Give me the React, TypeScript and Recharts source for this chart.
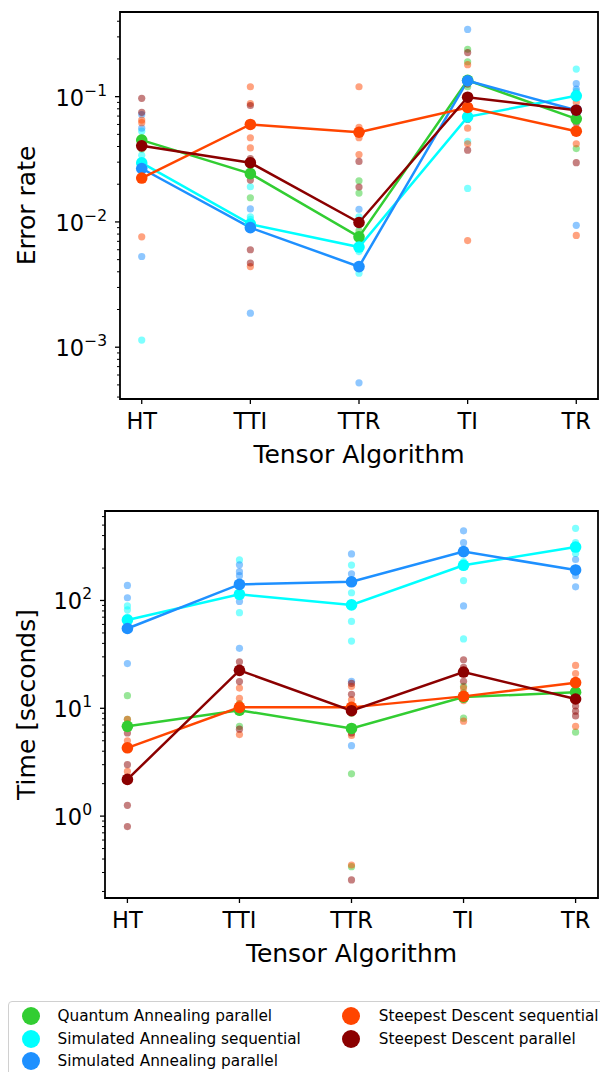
import React from "react"
import { ComposedChart, Line, Scatter, XAxis, YAxis, ReferenceArea } from "recharts"

const categories = ["HT", "TTI", "TTR", "TI", "TR"]

const seriesNames = [
  "Quantum Annealing parallel",
  "Simulated Annealing sequential",
  "Simulated Annealing parallel",
  "Steepest Descent sequential",
  "Steepest Descent parallel",
]
const seriesColors = ["#32cd32", "#00ffff", "#1e90ff", "#ff4500", "#8b0000"]

// error rate, mean per algorithm
const qaParErrMean = [0.045, 0.0243, 0.0076, 0.135, 0.0665]
const saSeqErrMean = [0.0296, 0.0096, 0.0063, 0.069, 0.1015]
const saParErrMean = [0.0267, 0.009, 0.0044, 0.134, 0.078]
const sdSeqErrMean = [0.0224, 0.06, 0.052, 0.082, 0.053]
const sdParErrMean = [0.0405, 0.0297, 0.0099, 0.099, 0.078]

// error rate, single runs
const qaParErr = [[0.047, 0.042, 0.038], [0.031, 0.0156, 0.028], [0.0213, 0.017, 0.0085], [0.239, 0.19, 0.12], [0.0385, 0.07, 0.1]]
const saSeqErr = [[0.053, 0.034, 0.00114, 0.046], [0.0191, 0.0105, 0.011], [0.011, 0.0039, 0.0058], [0.044, 0.0185, 0.069], [0.166, 0.105, 0.11]]
const saParErr = [[0.072, 0.056, 0.0053, 0.029], [0.0127, 0.00187, 0.0095], [0.0126, 0.0095, 0.00052], [0.344, 0.13, 0.066], [0.127, 0.115, 0.0094]]
const sdSeqErr = [[0.065, 0.062, 0.0076], [0.12, 0.088, 0.047, 0.039, 0.0044], [0.12, 0.057, 0.047, 0.0345], [0.18, 0.056, 0.042, 0.0071], [0.042, 0.0078, 0.09]]
const sdParErr = [[0.097, 0.075, 0.029], [0.085, 0.0216, 0.006, 0.0047, 0.032], [0.0304, 0.019], [0.225, 0.126, 0.066, 0.0374], [0.098, 0.0616, 0.0297, 0.105]]

// time in seconds, mean per algorithm
const qaParTimeMean = [6.8, 9.6, 6.5, 12.7, 14.1]
const saSeqTimeMean = [66, 114, 91, 212, 313]
const saParTimeMean = [55, 141, 149, 284, 192]
const sdSeqTimeMean = [4.3, 10.2, 10.2, 12.9, 17.3]
const sdParTimeMean = [2.19, 22.5, 9.5, 21.7, 12.2]

// time in seconds, single runs
const qaParTime = [[13.1, 7.9, 7.2], [6.8, 9.2, 11], [2.47, 0.34, 9.0], [8.1, 14, 16], [6.0, 14, 15]]
const saSeqTime = [[89, 82, 70], [238, 77, 120], [213, 118, 64, 42], [153, 44, 230], [467, 344, 273, 190]]
const saParTime = [[138, 106, 26], [214, 185, 170, 98, 36], [270, 177, 17.8, 4.5], [443, 344, 89], [240, 134, 170]]
const sdSeqTime = [[7.9, 2.6, 5.0], [15.4, 12.4, 5.7, 11], [16, 12, 5.6, 0.352], [15.4, 11.8, 7.6], [25, 21, 6.8]]
const sdParTime = [[5.9, 3.0, 1.26, 0.8], [27, 17.7, 6.4], [17, 13.5, 5.9, 0.256], [28.2, 24, 17.8], [18, 10.5, 9.4, 8.5]]

const errTicks = [
  0.0004, 0.0005, 0.0006, 0.0007, 0.0008, 0.0009, 0.001,
  0.002, 0.003, 0.004, 0.005, 0.006, 0.007, 0.008, 0.009, 0.01,
  0.02, 0.03, 0.04, 0.05, 0.06, 0.07, 0.08, 0.09, 0.1,
  0.2, 0.3, 0.4,
]
const timeTicks = [
  0.2, 0.3, 0.4, 0.5, 0.6, 0.7, 0.8, 0.9, 1,
  2, 3, 4, 5, 6, 7, 8, 9, 10,
  20, 30, 40, 50, 60, 70, 80, 90, 100,
  200, 300, 400, 500, 600,
]
const errDomain = [3.86e-4, 0.474]
const timeDomain = [0.174, 676]

const FONT = "DejaVu Sans"

const toPoints = (vals: number[]) => vals.map((y, x) => ({ x, y }))
const toScatter = (runs: number[][]) => runs.flatMap((vs, x) => vs.map((y) => ({ x, y })))

const errMeans = [qaParErrMean, saSeqErrMean, saParErrMean, sdSeqErrMean, sdParErrMean]
const errRuns = [qaParErr, saSeqErr, saParErr, sdSeqErr, sdParErr]
const timeMeans = [qaParTimeMean, saSeqTimeMean, saParTimeMean, sdSeqTimeMean, sdParTimeMean]
const timeRuns = [qaParTime, saSeqTime, saParTime, sdSeqTime, sdParTime]

function LogTick(props: any) {
  const { x, y, payload } = props
  const e = Math.log10(payload.value)
  const major = Math.abs(e - Math.round(e)) < 1e-6
  const len = major ? 5 : 3
  const exp = Math.round(e)
  return (
    <g>
      <line x1={x - len} x2={x} y1={y} y2={y} stroke="#000" strokeWidth={major ? 1.3 : 1} />
      {major && (
        <text x={x - 13} y={y + 9} textAnchor="end" fontSize={22.5} fontFamily={FONT} fill="#000">
          10
          <tspan dy={-10} fontSize={15.5}>
            {exp < 0 ? "\u2212" + Math.abs(exp) : String(exp)}
          </tspan>
        </text>
      )}
    </g>
  )
}

function CatTick(props: any) {
  const { x, y, payload } = props
  return (
    <g>
      <line x1={x} x2={x} y1={y} y2={y + 5} stroke="#000" strokeWidth={1.3} />
      <text x={x} y={y + 30} textAnchor="middle" fontSize={22.5} fontFamily={FONT} fill="#000">
        {categories[payload.value]}
      </text>
    </g>
  )
}

function XTitle(props: any) {
  const vb = props.viewBox || {}
  return (
    <text x={vb.x + vb.width / 2} y={vb.y + 64} textAnchor="middle" fontSize={25} fontFamily={FONT} fill="#000">
      Tensor Algorithm
    </text>
  )
}

function YTitle(props: any) {
  const vb = props.viewBox || {}
  const cx = 35
  const cy = vb.y + vb.height / 2
  return (
    <text x={cx} y={cy} transform={`rotate(-90 ${cx} ${cy})`} textAnchor="middle" fontSize={25} fontFamily={FONT} fill="#000">
      {props.title}
    </text>
  )
}

function Panel(props: {
  means: number[][]
  runs: number[][][]
  ticks: number[]
  domain: number[]
  title: string
  yWidth: number
  top: number
}) {
  const { means, runs, ticks, domain, title, yWidth, top } = props
  return (
    <ComposedChart width={600} height={500} margin={{ top, right: 2, bottom: 0, left: 0 }}>
      <XAxis
        type="number"
        dataKey="x"
        domain={[-0.2, 4.2]}
        ticks={[0, 1, 2, 3, 4]}
        allowDataOverflow
        interval={0}
        tick={<CatTick />}
        tickLine={false}
        axisLine={false}
        tickSize={0}
        tickMargin={0}
        height={500 - top - 387}
        label={<XTitle />}
      />
      <YAxis
        type="number"
        dataKey="y"
        scale="log"
        domain={domain}
        allowDataOverflow
        ticks={ticks}
        interval={0}
        tick={<LogTick />}
        tickLine={false}
        axisLine={false}
        tickSize={0}
        tickMargin={0}
        width={yWidth}
        label={<YTitle title={title} />}
      />
      {seriesColors.map((c, i) => (
        <Scatter
          key={"s" + i}
          data={toScatter(runs[i])}
          isAnimationActive={false}
          shape={(p: any) => <circle cx={p.cx} cy={p.cy} r={3.6} fill={c} fillOpacity={0.5} />}
        />
      ))}
      {seriesColors.map((c, i) => (
        <Line
          key={"l" + i}
          data={toPoints(means[i])}
          dataKey="y"
          type="linear"
          stroke={c}
          strokeWidth={2.5}
          dot={{ r: 5.8, fill: c, stroke: c, strokeWidth: 0 }}
          activeDot={false}
          isAnimationActive={false}
        />
      ))}
      <ReferenceArea
        x1={-0.2}
        x2={4.2}
        y1={domain[0]}
        y2={domain[1]}
        fill="none"
        stroke="#000"
        strokeWidth={1.8}
        ifOverflow="visible"
      />
    </ComposedChart>
  )
}

function LegendBox() {
  const cols = [
    { cx: 29.5, tx: 57.5, items: [0, 1, 2] },
    { cx: 349.7, tx: 378.8, items: [3, 4] },
  ]
  const rows = [15, 37.5, 60]
  return (
    <div
      style={{
        position: "absolute",
        left: 8,
        top: 1001,
        width: 610,
        height: 90,
        border: "1.3px solid #d0d0d0",
        borderRadius: 4,
        boxSizing: "border-box",
        fontFamily: FONT,
        fontSize: 15.3,
        color: "#000",
      }}
    >
      {cols.map((col) =>
        col.items.map((s, r) => (
          <React.Fragment key={s}>
            <div
              style={{
                position: "absolute",
                left: col.cx - 8 - 8 - 1,
                top: rows[r] - 9 - 1,
                width: 18,
                height: 18,
                borderRadius: 9,
                background: seriesColors[s],
              }}
            />
            <div
              style={{
                position: "absolute",
                left: col.tx - 8 - 1,
                top: rows[r] - 10 - 1,
                lineHeight: "20px",
                whiteSpace: "nowrap",
              }}
            >
              {seriesNames[s]}
            </div>
          </React.Fragment>
        ))
      )}
    </div>
  )
}

export default function App() {
  return (
    <div style={{ position: "absolute", left: 0, top: 0, width: 600, height: 1072, overflow: "hidden", background: "#fff" }}>
      <div style={{ position: "absolute", left: 0, top: 0 }}>
        <Panel means={errMeans} runs={errRuns} ticks={errTicks} domain={errDomain} title="Error rate" yWidth={120} top={12} />
      </div>
      <div style={{ position: "absolute", left: 0, top: 500 }}>
        <Panel means={timeMeans} runs={timeRuns} ticks={timeTicks} domain={timeDomain} title="Time [seconds]" yWidth={105} top={11} />
      </div>
      <LegendBox />
    </div>
  )
}
